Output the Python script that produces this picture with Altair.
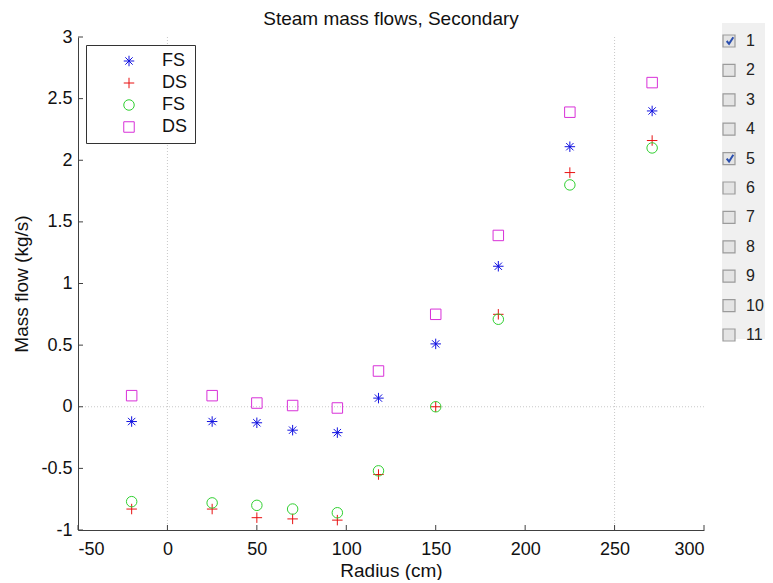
import altair as alt
import pandas as pd

# ---- data ----
radius = [-20, 25, 50, 70, 95, 118, 150, 185, 225, 271]
fs_star = [-0.12, -0.12, -0.13, -0.19, -0.21, 0.07, 0.51, 1.14, 2.11, 2.40]
ds_plus = [-0.83, -0.83, -0.90, -0.91, -0.92, -0.55, 0.00, 0.75, 1.90, 2.16]
fs_circle = [-0.77, -0.78, -0.80, -0.83, -0.86, -0.52, 0.00, 0.71, 1.80, 2.10]
ds_square = [0.09, 0.09, 0.03, 0.01, -0.01, 0.29, 0.75, 1.39, 2.39, 2.63]

series_ids = ["FS1", "DS1", "FS2", "DS2"]
series_values = [fs_star, ds_plus, fs_circle, ds_square]
series_colors = ["#1010e0", "#e81010", "#30d030", "#d830d8"]
star_path = "M-1,0L1,0M0,-1L0,1M-0.7,-0.7L0.7,0.7M-0.7,0.7L0.7,-0.7"
plus_path = "M-1,0L1,0M0,-1L0,1"
series_shapes = [star_path, plus_path, "circle", "square"]

x_ticks = [-50, 0, 50, 100, 150, 200, 250, 300]
y_ticks = [-1, -0.5, 0, 0.5, 1, 1.5, 2, 2.5, 3]
v_refs = [0, 250]
h_refs = [0]

chart_title = ["Steam mass flows, Secondary"]
panel_labels = [str(i) for i in range(1, 12)]
panel_checked = [True, False, False, False, True, False, False, False, False, False, False]

W, H = 626, 493
FONT = "Liberation Sans"

rows = []
for sid, vals in zip(series_ids, series_values):
    for r, v in zip(radius, vals):
        rows.append({"radius": r, "flow": v, "series": sid})
df = pd.DataFrame(rows)

xscale = alt.Scale(domain=[-50, 300], nice=False, zero=False)
yscale = alt.Scale(domain=[-1, 3], nice=False, zero=False)
xaxis = alt.Axis(values=x_ticks, tickSize=0, labelPadding=10, grid=False,
                 labelExpr="replace(format(datum.value, '~g'), '\u2212', '-')",
                 titleY=46, titleBaseline="alphabetic")
yaxis = alt.Axis(values=y_ticks, tickSize=0, labelPadding=6, grid=False,
                 labelExpr="replace(format(datum.value, '~g'), '\u2212', '-')",
                 titleX=-51, titleY=H / 2, titleAngle=270, titleBaseline="alphabetic",
                 titleAlign="center")


def X():
    return alt.X("radius:Q", scale=xscale, axis=xaxis, title="Radius (cm)")


def Y():
    return alt.Y("flow:Q", scale=yscale, axis=yaxis, title="Mass flow (kg/s)")


ref_style = dict(color="#c8c8c8", strokeDash=[1, 2], strokeWidth=1)
vref = alt.Chart(pd.DataFrame({"radius": v_refs})).mark_rule(**ref_style).encode(x=X())
href = alt.Chart(pd.DataFrame({"flow": h_refs})).mark_rule(**ref_style).encode(y=Y())

xtick_layer = alt.Chart(pd.DataFrame({"radius": x_ticks})).mark_rule(
    color="#404040", strokeWidth=1).encode(x=X(), y=alt.value(H), y2=alt.value(H - 5))
ytick_layer = alt.Chart(pd.DataFrame({"flow": y_ticks})).mark_rule(
    color="#404040", strokeWidth=1).encode(y=Y(), x=alt.value(0), x2=alt.value(5))

points = alt.Chart(df).mark_point(filled=False, size=110, strokeWidth=1, opacity=1).encode(
    x=X(),
    y=Y(),
    color=alt.Color("series:N", scale=alt.Scale(domain=series_ids, range=series_colors),
                    legend=alt.Legend(
                        orient="none", legendX=8, legendY=8, title=None,
                        padding=7, strokeColor="#333333", fillColor="white",
                        symbolOffset=27, labelOffset=24, rowPadding=4,
                        labelFontSize=18, labelFont=FONT, labelColor="#111111",
                        symbolSize=110, symbolStrokeWidth=1, symbolFillColor="transparent",
                        labelExpr="slice(datum.label, 0, 2)")),
    shape=alt.Shape("series:N", scale=alt.Scale(domain=series_ids, range=series_shapes)),
)

main = alt.layer(vref, href, xtick_layer, ytick_layer, points)

# ---- title and checkbox panel ----
title_layer = alt.Chart(pd.DataFrame({"t": chart_title})).mark_text(
    align="center", baseline="alphabetic", fontSize=19, font=FONT, color="#111111").encode(
    x=alt.value(W / 2), y=alt.value(-12), text="t:N")

panel_df = pd.DataFrame({"label": panel_labels, "checked": panel_checked})
py = alt.Y("label:O", scale=alt.Scale(domain=panel_labels, range=[4, 298], padding=0), axis=None)

bg = alt.Chart(pd.DataFrame({"a": [0]})).mark_rect(color="#f0f0f0").encode(
    x=alt.value(644), x2=alt.value(687), y=alt.value(-14), y2=alt.value(302))
boxes = alt.Chart(panel_df).mark_point(shape="square", size=144, filled=True, opacity=1,
                                       fill="#e4e4e4", stroke="#9b9b9b", strokeWidth=1.2).encode(
    x=alt.value(651), y=py)
checks = alt.Chart(panel_df).transform_filter("datum.checked").mark_point(
    shape="M-0.7,0L-0.2,0.6L0.7,-0.8", size=90, filled=False, opacity=1,
    stroke="#2b4fae", strokeWidth=2).encode(x=alt.value(652), y=py)
labels = alt.Chart(panel_df).mark_text(align="left", baseline="middle", fontSize=16,
                                       font=FONT, color="#222222").encode(
    x=alt.value(668), y=py, text="label:N")
panel = alt.layer(title_layer, bg, boxes, checks, labels)

chart = alt.layer(main, panel).resolve_scale(y="independent").properties(
    width=W, height=H,
    padding={"left": 70, "top": 29, "right": 61, "bottom": 50},
    autosize=alt.AutoSizeParams(type="none"),
).configure_view(stroke=None).configure_axis(
    domainColor="#404040", domainWidth=1, labelFont=FONT, labelFontSize=18,
    labelColor="#111111", titleFont=FONT, titleFontSize=19, titleFontWeight="normal",
    titleColor="#111111",
)

chart.save("out.html", embed_options={"renderer": "svg", "actions": False})
